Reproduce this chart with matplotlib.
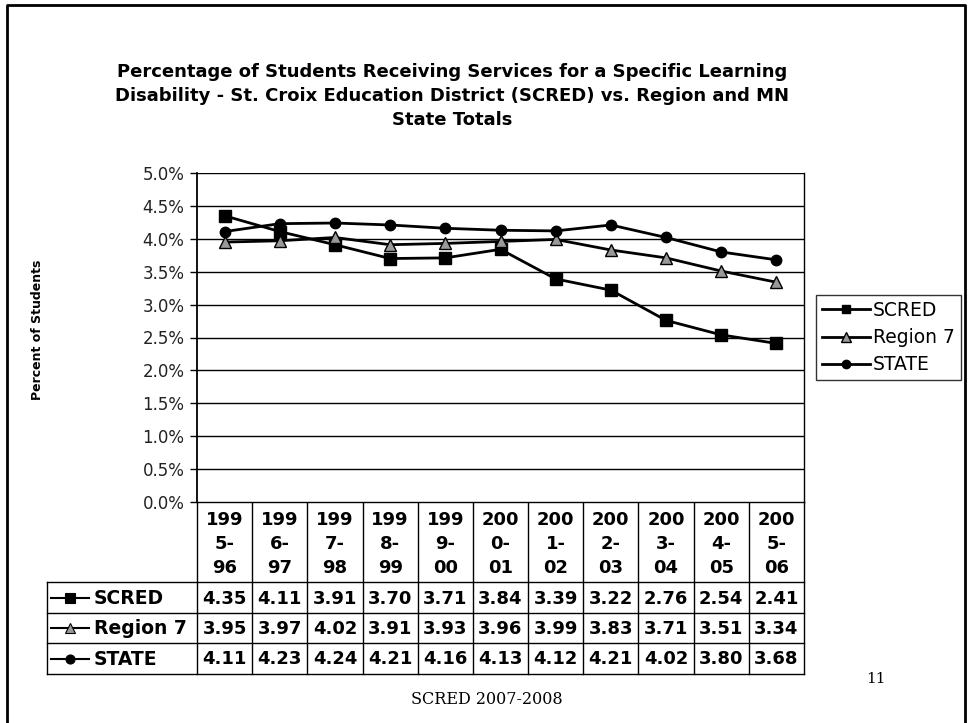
import matplotlib
matplotlib.use('Agg')
import matplotlib.pyplot as plt

years = ['199\n5-\n96', '199\n6-\n97', '199\n7-\n98', '199\n8-\n99', '199\n9-\n00',
         '200\n0-\n01', '200\n1-\n02', '200\n2-\n03', '200\n3-\n04', '200\n4-\n05', '200\n5-\n06']
scred = [4.35, 4.11, 3.91, 3.70, 3.71, 3.84, 3.39, 3.22, 2.76, 2.54, 2.41]
region7 = [3.95, 3.97, 4.02, 3.91, 3.93, 3.96, 3.99, 3.83, 3.71, 3.51, 3.34]
state = [4.11, 4.23, 4.24, 4.21, 4.16, 4.13, 4.12, 4.21, 4.02, 3.80, 3.68]

series = [
    ('SCRED', scred, dict(marker='s', markerfacecolor='black', markersize=8)),
    ('Region 7', region7, dict(marker='^', markerfacecolor='#999999', markersize=8.5)),
    ('STATE', state, dict(marker='o', markerfacecolor='black', markersize=7.5)),
]

W, H = 969, 723
fig = plt.figure(figsize=(W / 100, H / 100), dpi=100)


def frac(x0, y0, x1, y1):
    # pixel box (top-left origin) -> figure fraction rect
    return [x0 / W, 1 - y1 / H, (x1 - x0) / W, (y1 - y0) / H]


# overlay for page border, table and texts
ov = fig.add_axes([0, 0, 1, 1])
ov.set_xlim(0, W)
ov.set_ylim(H, 0)
ov.axis('off')

# page border
ov.plot([7, 7, 965, 965], [H + 5, 5, 5, H + 5], color='black', lw=2)

# plot area
L, R, T, B = 197, 804, 173, 502
ax = fig.add_axes(frac(L, T, R, B))
n = len(years)
xs = list(range(n))
handles = []
for name, vals, st in series:
    h, = ax.plot(xs, [v / 100 for v in vals], color='black', lw=2,
                 markeredgecolor='black', markeredgewidth=1, label=name, **st)
    handles.append(h)
ax.set_xlim(-0.5, n - 0.5)
ax.set_ylim(0, 0.05)
yt = [i * 0.005 for i in range(11)]
ax.set_yticks(yt)
ax.set_yticklabels(['%.1f%%' % (v * 100) for v in yt], fontsize=12, color='#222222')
ax.set_xticks([])
ax.yaxis.grid(True, color='black', lw=1)
ax.set_axisbelow(True)
for s in ['top', 'bottom']:
    ax.spines[s].set_visible(False)
ax.spines['left'].set_linewidth(1.3)
ax.spines['right'].set_linewidth(1)
ax.tick_params(axis='y', length=5, width=1, pad=4)

# title
ov.text(452, 96, 'Percentage of Students Receiving Services for a Specific Learning\n'
        'Disability - St. Croix Education District (SCRED) vs. Region and MN\n'
        'State Totals', ha='center', va='center', fontsize=13, fontweight='bold',
        linespacing=1.4)

# y label
ov.text(38, 330, 'Percent of Students', rotation=90, ha='center', va='center',
        fontsize=9, fontweight='bold')

# legend
fig.legend(handles=handles, loc='upper left', bbox_to_anchor=(816 / W, 1 - 295 / H),
           frameon=True, fancybox=False, edgecolor='black', fontsize=13.5,
           handlelength=2.6, handletextpad=0.15, borderpad=0.3, labelspacing=0.45,
           borderaxespad=0, markerscale=0.8)

# data table
cw = (R - L) / n
col_x = [L + i * cw for i in range(n + 1)]
TL = 47
row_y = [B, 582, 613, 643, 674]
lc = dict(color='black', lw=1)
for x in col_x:
    ov.plot([x, x], [B, row_y[-1]], **lc)
ov.plot([TL, TL], [row_y[1], row_y[-1]], **lc)
ov.plot([L, R], [B, B], **lc)
for y in row_y[1:]:
    ov.plot([TL, R], [y, y], **lc)
for i, lab in enumerate(years):
    ov.text((col_x[i] + col_x[i + 1]) / 2, (row_y[0] + row_y[1]) / 2 + 2, lab,
            ha='center', va='center', fontsize=13, fontweight='bold', linespacing=1.4)
for r, (name, vals, st) in enumerate(series):
    yc = (row_y[r + 1] + row_y[r + 2]) / 2
    ov.plot([51, 89], [yc, yc], color='black', lw=1.5)
    ov.plot([70], [yc], color='black', markeredgecolor='black', markeredgewidth=0.8,
            **dict(st, markersize=st['markersize'] - 1))
    ov.text(94, yc + 1, name, ha='left', va='center', fontsize=13.5, fontweight='bold')
    for i, v in enumerate(vals):
        ov.text((col_x[i] + col_x[i + 1]) / 2, yc + 1, '%.2f' % v, ha='center',
                va='center', fontsize=13, fontweight='bold')

# footer
ov.text(487, 700, 'SCRED 2007-2008', ha='center', va='center', fontsize=11.5,
        family='DejaVu Serif')
ov.text(876, 679, '11', ha='center', va='center', fontsize=11, family='DejaVu Serif')

fig.savefig('out.png', dpi=100)
